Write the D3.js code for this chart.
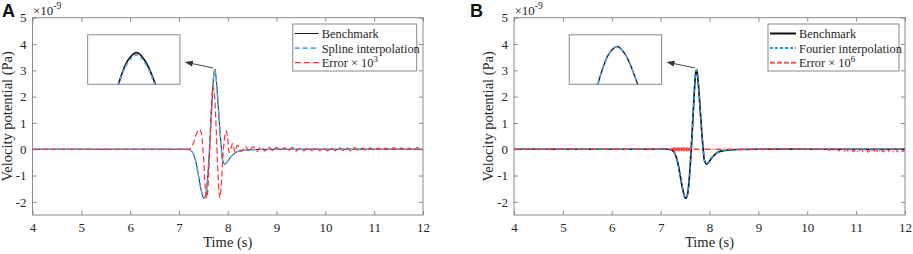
<!DOCTYPE html>
<html>
<head>
<meta charset="utf-8">
<script src="https://cdn.jsdelivr.net/npm/d3@7"></script>
<style>
  body { margin: 0; background: #fff; }
  svg { display: block; font-family: "Liberation Serif", "Times New Roman", serif; }
</style>
</head>
<body>
<svg id="chart" width="913" height="254"></svg>
<script>
// Benchmark pulse (units of 1e-9 Pa)
const benchT = [4, 5, 6, 7, 7.1, 7.2, 7.25, 7.3, 7.35, 7.4, 7.45, 7.5, 7.52, 7.55, 7.58, 7.61, 7.64, 7.67,
  7.70, 7.72, 7.735, 7.75, 7.78, 7.81, 7.84, 7.87, 7.9, 7.94, 7.98, 8.05, 8.1, 8.15, 8.2, 8.3, 8.4, 8.6, 9, 10, 11, 12];
const benchV = [0, 0, 0, 0, 0, -0.01, -0.05, -0.2, -0.5, -1.0, -1.5, -1.84, -1.86, -1.72, -1.25, -0.5, 0.45, 1.5,
  2.5, 2.92, 3.02, 2.9, 2.3, 1.5, 0.7, 0.02, -0.45, -0.57, -0.5, -0.32, -0.22, -0.14, -0.09, -0.05, -0.03, -0.01, 0, 0, 0, 0];
// spline sits a hair under the benchmark at the peak (only visible in the inset)
const splineV = [0, 0, 0, 0, 0, -0.01, -0.05, -0.2, -0.5, -1.0, -1.5, -1.84, -1.86, -1.72, -1.25, -0.5, 0.45, 1.5,
  2.49, 2.89, 2.99, 2.87, 2.29, 1.5, 0.7, 0.02, -0.45, -0.57, -0.5, -0.32, -0.22, -0.14, -0.09, -0.05, -0.03, -0.01, 0, 0, 0, 0];
// Fourier result overlaps the benchmark
const fourierV = benchV;

// Spline error x 1e3
const errAT = [4, 7, 7.2, 7.25, 7.3, 7.35, 7.4, 7.43, 7.46, 7.48, 7.51, 7.54, 7.57, 7.6, 7.63, 7.66, 7.70, 7.73, 7.76,
  7.79, 7.82, 7.84, 7.87, 7.9, 7.94, 7.97, 8.0, 8.03, 8.06, 8.1, 8.15, 8.2, 8.28, 8.36, 8.44, 8.52, 8.60, 8.68, 8.76,
  8.84, 8.92, 9.00, 9.08, 9.16, 9.24, 9.32, 9.40, 9.48, 9.56, 9.64, 9.72, 9.80, 9.88, 9.96, 10.04, 10.12, 10.20,
  10.28, 10.36, 10.44, 10.52, 10.60, 10.68, 10.76, 10.84, 10.92, 11.00, 11.08, 11.16, 11.24, 11.32, 11.40, 11.48,
  11.56, 11.64, 11.72, 11.80, 11.88, 11.96, 12];
const errAV = [0, 0, 0, 0.05, 0.25, 0.55, 0.72, 0.75, 0.6, 0.3, -0.5, -1.5, -1.86, -1.3, 0.0, 1.5, 2.4, 2.0, 0.9,
  -0.5, -1.6, -1.85, -1.3, -0.3, 0.5, 0.7, 0.4, -0.12, 0.0, 0.22, -0.1, 0.16, -0.08, 0.12, -0.07, 0.1, -0.08, 0.09, -0.07,
  0.08, -0.06, 0.07, -0.05, 0.06, -0.06, 0.07, -0.07, 0.05, -0.06, 0.06, -0.04, 0.07, -0.05, 0.05, -0.06, 0.04, -0.05,
  0.06, -0.04, 0.05, -0.06, 0.06, -0.05, 0.04, -0.05, 0.05, -0.04, 0.05, -0.05, 0.04, -0.04, 0.06, -0.04,
  0.05, -0.05, 0.04, -0.05, 0.06, -0.03, 0];

// Fourier error x 1e6
const errBT = [4, 7.0, 7.22, 7.24, 7.25, 7.26, 7.27, 7.28, 7.29, 7.30, 7.31, 7.32, 7.33, 7.34, 7.35, 7.36, 7.37,
  7.38, 7.39, 7.40, 7.41, 7.42, 7.43, 7.44, 7.45, 7.46, 7.47, 7.48, 7.49, 7.50, 7.51, 7.52, 7.53, 7.54, 7.55,
  7.56, 7.57, 7.58, 7.59, 7.60, 7.61, 7.62, 7.64, 7.655, 7.67, 7.69, 7.72, 8.0, 9.0, 10.0, 10.3, 10.35, 10.4, 10.45, 10.5,
  10.55, 10.6, 10.65, 10.7, 10.75, 10.8, 10.85, 10.9, 10.95, 11.0, 11.05, 11.1, 11.15, 11.2, 11.25, 11.3, 11.35,
  11.4, 11.45, 11.5, 11.55, 11.6, 11.65, 11.7, 11.75, 11.8, 11.85, 11.9, 11.95, 12];
const errBV = [0, 0, 0, 0.03, -0.04, 0.05, -0.05, 0.06, -0.05, 0.06, -0.06, 0.05, -0.06, 0.06, -0.05, 0.06, -0.06,
  0.05, -0.06, 0.06, -0.05, 0.06, -0.06, 0.05, -0.06, 0.06, -0.05, 0.06, -0.06, 0.05, -0.06, 0.06, -0.05, 0.06, -0.06,
  0.05, -0.06, 0.06, -0.05, 0.05, -0.04, 0.03, 0.02, 0.09, 0.0, 0.01, 0, 0, 0, 0, 0, -0.03, 0.01, -0.04, 0.01,
  -0.05, 0.01, -0.06, 0.01, -0.07, 0.0, -0.08, 0.01, -0.09, 0.0, -0.1, 0.01, -0.1, 0.0, -0.11, 0.01, -0.1,
  0.0, -0.11, 0.01, -0.1, 0.0, -0.11, 0.01, -0.1, 0.02, -0.1, 0.01, -0.09, 0];

const xTicks = [4, 5, 6, 7, 8, 9, 10, 11, 12];
const yTicks = [-2, -1, 0, 1, 2, 3, 4, 5];
const peakPoint = [7.735, 3.02];

const zip = (t, v) => t.map((d, i) => [d, v[i]]);

const svg = d3.select('#chart');
const H0 = 17.7, H1 = 215;

function drawPanel(cfg) {
    const x = d3.scaleLinear().domain([4, 12]).range([cfg.left, cfg.right]);
    const y = d3.scaleLinear().domain([-2.5, 5]).range([H1, H0]);
    const g = svg.append('g');

    const clipId = 'clip' + cfg.letter;
    svg.append('clipPath').attr('id', clipId)
        .append('rect').attr('x', cfg.left).attr('y', H0)
        .attr('width', cfg.right - cfg.left).attr('height', H1 - H0);

    // axes, ticks pointing inward like matlab
    const axCol = '#8a8a8a';
    g.append('g').attr('transform', `translate(0,${H1})`)
        .call(d3.axisBottom(x).tickValues(xTicks).tickSize(-4).tickPadding(8).tickFormat(d3.format('d')));
    g.append('g').attr('transform', `translate(0,${H0})`)
        .call(d3.axisTop(x).tickValues(xTicks).tickSize(-4).tickFormat(''));
    g.append('g').attr('transform', `translate(${cfg.left},0)`)
        .call(d3.axisLeft(y).tickValues(yTicks).tickSize(-4).tickPadding(6).tickFormat(d => d < 0 ? '-' + (-d) : d));
    g.append('g').attr('transform', `translate(${cfg.right},0)`)
        .call(d3.axisRight(y).tickValues(yTicks).tickSize(-4).tickFormat(''));
    g.selectAll('.domain').remove();
    g.selectAll('.tick line').attr('stroke', axCol);
    g.selectAll('.tick text').attr('fill', '#262626')
        .style('font-family', '"Liberation Serif", serif').style('font-size', '13px');

    g.append('rect').attr('x', cfg.left).attr('y', H0)
        .attr('width', cfg.right - cfg.left).attr('height', H1 - H0)
        .attr('fill', 'none').attr('stroke', axCol).attr('stroke-width', 1);

    // series
    const line = d3.line().x(d => x(d[0])).y(d => y(d[1])).curve(d3.curveCatmullRom.alpha(0.5));
    const plot = g.append('g').attr('clip-path', `url(#${clipId})`);
    cfg.series.forEach(s => {
        plot.append('path').datum(zip(s.t, s.v))
            .attr('d', line).attr('fill', 'none')
            .attr('stroke', s.color).attr('stroke-width', s.width)
            .attr('stroke-dasharray', s.dash || null);
    });

    // tiny zoom marker on the peak
    plot.append('rect').attr('x', x(peakPoint[0]) - 1).attr('y', y(peakPoint[1]) - 1)
        .attr('width', 2).attr('height', 2).attr('fill', '#3c3');

    // inset box with zoomed peak
    const box = { t: [5.13, 7.02], v: [2.47, 4.35] };
    const bx0 = x(box.t[0]), bx1 = x(box.t[1]), by0 = y(box.v[1]), by1 = y(box.v[0]);
    const xi = d3.scaleLinear().domain(cfg.insetX).range([bx0, bx1]);
    const yi = d3.scaleLinear().domain(cfg.insetY).range([by1, by0]);
    const insetClip = 'inset' + cfg.letter;
    svg.append('clipPath').attr('id', insetClip)
        .append('rect').attr('x', bx0).attr('y', by0).attr('width', bx1 - bx0).attr('height', by1 - by0);
    g.append('rect').attr('x', bx0).attr('y', by0).attr('width', bx1 - bx0).attr('height', by1 - by0)
        .attr('fill', '#fff').attr('stroke', axCol);
    const lineIn = d3.line().x(d => xi(d[0])).y(d => yi(d[1])).curve(d3.curveCatmullRom.alpha(0.5));
    const ins = g.append('g').attr('clip-path', `url(#${insetClip})`);
    cfg.insetSeries.forEach(s => {
        ins.append('path').datum(zip(s.t, s.v))
            .attr('d', lineIn).attr('fill', 'none')
            .attr('stroke', s.color).attr('stroke-width', s.width)
            .attr('stroke-dasharray', s.dash || null);
    });

    // arrow pointing to the inset
    const ax0 = x(7.70), ay0 = y(3.09), ax1 = x(7.12), ay1 = y(3.32);
    g.append('line').attr('x1', ax0).attr('y1', ay0).attr('x2', ax1 + 6).attr('y2', ay1 + 1.4)
        .attr('stroke', '#333').attr('stroke-width', 0.9);
    const ang = Math.atan2(ay1 - ay0, ax1 - ax0);
    const hl = 8, hw = 3;
    const p1 = [ax1 - hl * Math.cos(ang) + hw * Math.sin(ang), ay1 - hl * Math.sin(ang) - hw * Math.cos(ang)];
    const p2 = [ax1 - hl * Math.cos(ang) - hw * Math.sin(ang), ay1 - hl * Math.sin(ang) + hw * Math.cos(ang)];
    g.append('path').attr('d', `M${ax1},${ay1}L${p1}L${p2}Z`).attr('fill', '#333');

    // legend
    const lg = g.append('g');
    lg.append('rect').attr('x', cfg.legend.x0).attr('y', 24)
        .attr('width', cfg.legend.x1 - cfg.legend.x0).attr('height', 47)
        .attr('fill', '#fff').attr('stroke', axCol);
    cfg.legend.items.forEach((it, i) => {
        const yy = 33.5 + i * 14.6;
        lg.append('line').attr('x1', cfg.legend.x0 + 2).attr('x2', cfg.legend.x0 + cfg.legend.len)
            .attr('y1', yy).attr('y2', yy)
            .attr('stroke', it.color).attr('stroke-width', it.width).attr('stroke-dasharray', it.dash || null);
        const tx = lg.append('text').attr('x', cfg.legend.x0 + cfg.legend.len + 3).attr('y', yy + 4.5)
            .attr('font-size', 12.4).attr('fill', '#262626');
        tx.append('tspan').text(it.label);
        if (it.sup) {
            tx.append('tspan').attr('dy', -5).attr('font-size', 9).text(it.sup);
        }
    });

    // labels
    const midX = (cfg.left + cfg.right) / 2;
    g.append('text').attr('x', midX).attr('y', 247).attr('text-anchor', 'middle')
        .attr('font-size', 14.5).attr('fill', '#262626').text('Time (s)');
    g.append('text').attr('transform', `translate(${cfg.left - 21},${(H0 + H1) / 2}) rotate(-90)`)
        .attr('text-anchor', 'middle').attr('font-size', 14.5).attr('fill', '#262626')
        .text('Velocity potential (Pa)');
    const exp = g.append('text').attr('x', cfg.left + 0.5).attr('y', 15).attr('font-size', 13).attr('fill', '#262626');
    exp.append('tspan').text('×10');
    exp.append('tspan').attr('dy', -6).attr('font-size', 9.5).text('-9');

    g.append('text').attr('x', cfg.letterX).attr('y', 17).attr('font-family', '"Liberation Sans", Arial, sans-serif')
        .attr('font-weight', 'bold').attr('font-size', 18).attr('fill', '#111').text(cfg.letter);
}

drawPanel({
    letter: 'A', letterX: 2, left: 32.5, right: 423,
    series: [
        { t: benchT, v: benchV, color: '#1a1a1a', width: 1 },
        { t: benchT, v: splineV, color: '#52a8f2', width: 1.5, dash: '5,3' },
        { t: errAT, v: errAV, color: '#ff3030', width: 1.2, dash: '6,3' }
    ],
    insetX: [7.653, 7.807], insetY: [2.615, 3.247],
    insetSeries: [
        { t: benchT, v: benchV, color: '#111', width: 1.7 },
        { t: benchT, v: splineV, color: '#52a8f2', width: 1.7, dash: '4,3' }
    ],
    legend: {
        x0: 292.7, x1: 416.7, len: 26,
        items: [
            { label: 'Benchmark', color: '#1a1a1a', width: 1 },
            { label: 'Spline interpolation', color: '#52a8f2', width: 1.6, dash: '5,3' },
            { label: 'Error × 10', sup: '3', color: '#ff3030', width: 1.2, dash: '6,3' }
        ]
    }
});

drawPanel({
    letter: 'B', letterX: 470, left: 514, right: 905,
    series: [
        { t: benchT, v: benchV, color: '#111', width: 1.7 },
        { t: benchT, v: fourierV, color: '#2196f3', width: 1.3, dash: '4,3' },
        { t: errBT, v: errBV, color: '#ff3a3a', width: 1.3, dash: '6,2,1,2' }
    ],
    insetX: [7.646, 7.817], insetY: [2.47, 3.19],
    insetSeries: [
        { t: benchT, v: benchV, color: '#222', width: 1.4 },
        { t: benchT, v: fourierV, color: '#4aa8f5', width: 1.4, dash: '4,4' }
    ],
    legend: {
        x0: 768, x1: 899, len: 28,
        items: [
            { label: 'Benchmark', color: '#111', width: 2 },
            { label: 'Fourier interpolation', color: '#2196f3', width: 2, dash: '3,2' },
            { label: 'Error × 10', sup: '6', color: '#ff5555', width: 2, dash: '5,2' }
        ]
    }
});
</script>
</body>
</html>
